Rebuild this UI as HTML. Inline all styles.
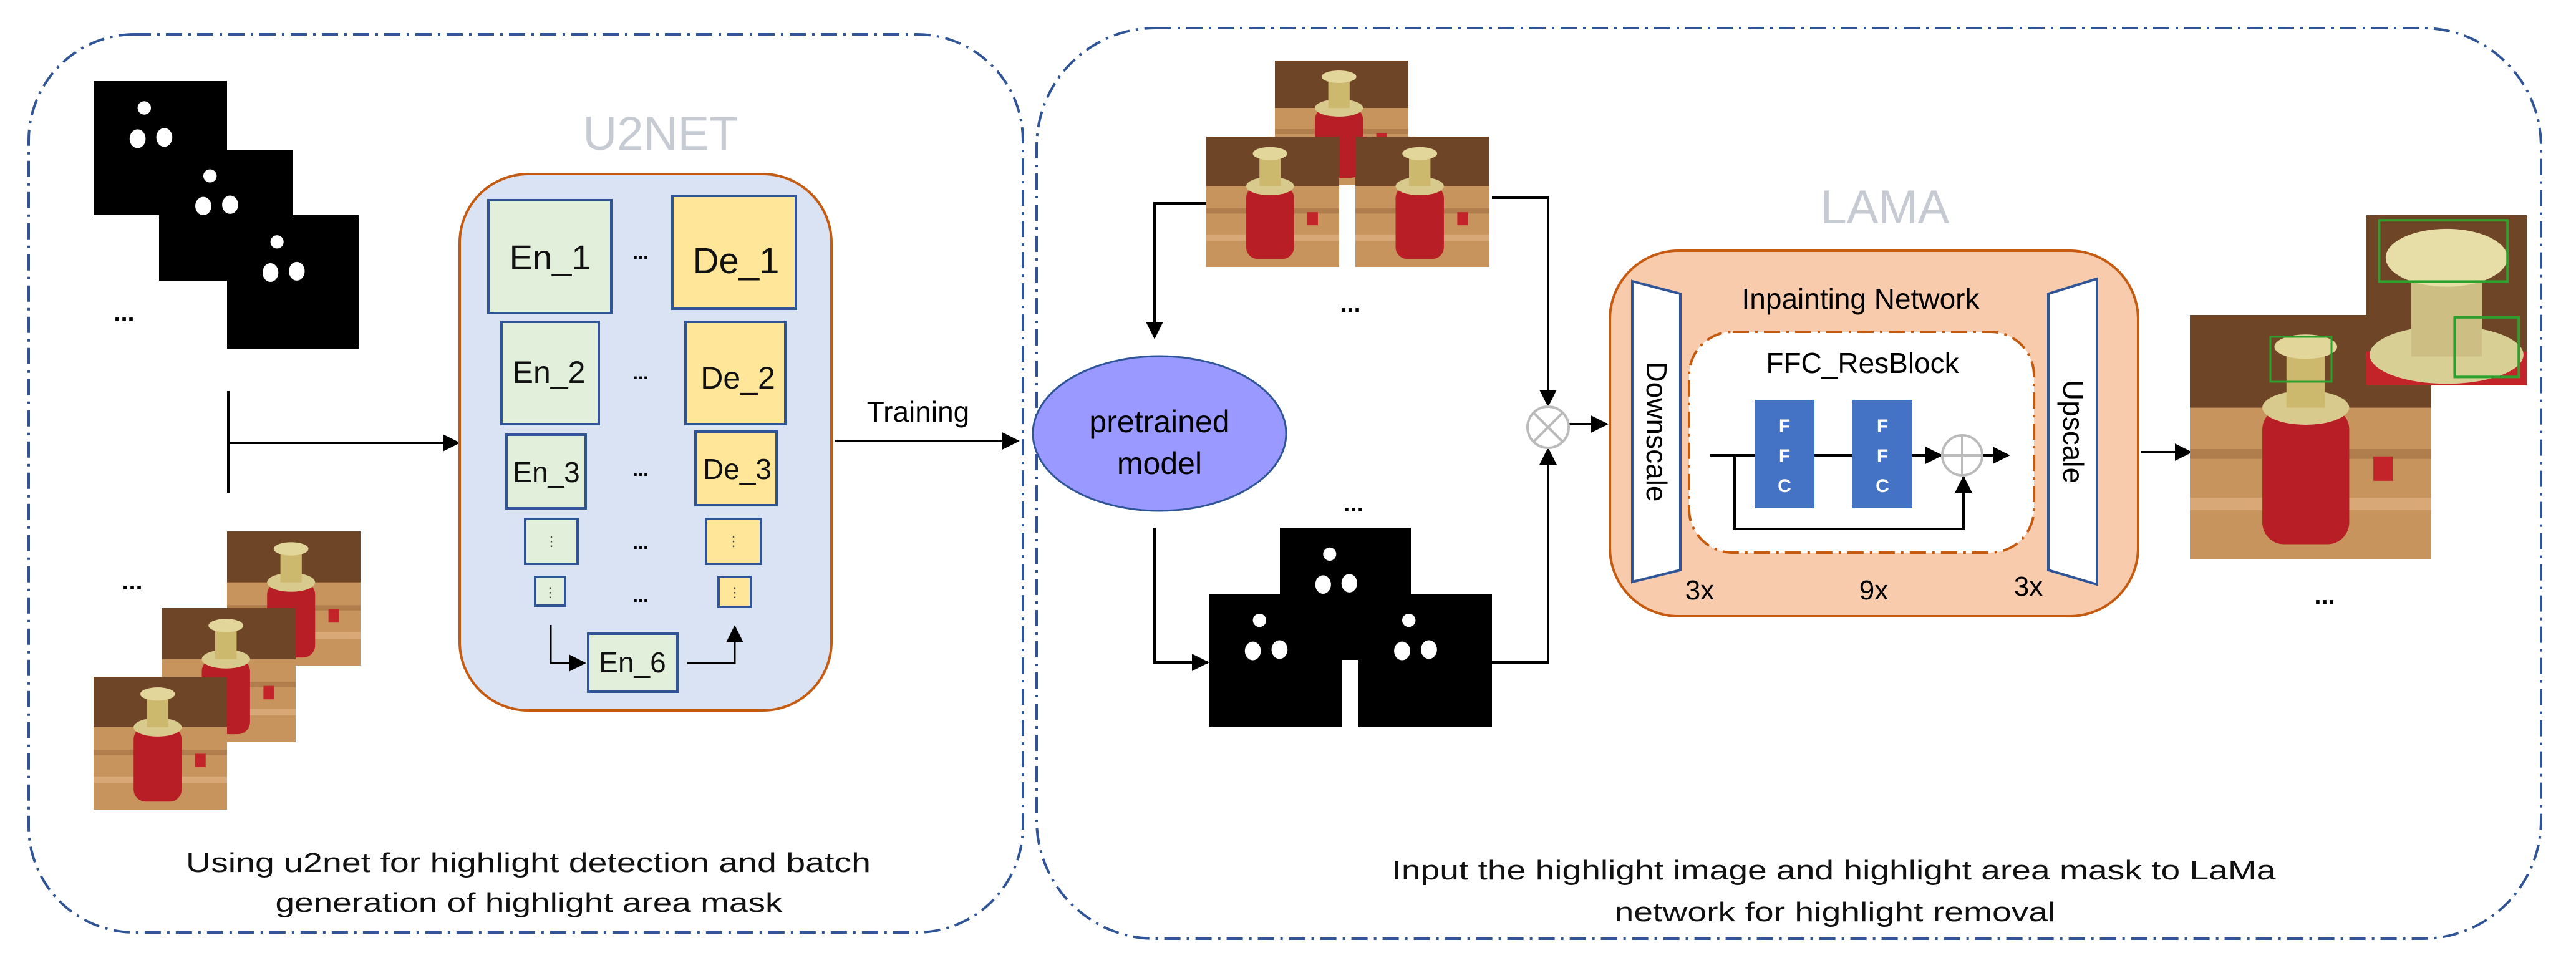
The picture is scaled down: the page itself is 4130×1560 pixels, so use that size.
<!DOCTYPE html>
<html><head><meta charset="utf-8">
<style>html,body{margin:0;padding:0;background:#fff}svg{display:block}</style>
</head><body>
<svg width="4130" height="1560" viewBox="0 0 4130 1560" xmlns="http://www.w3.org/2000/svg" font-family="Liberation Sans, sans-serif">
<defs>
<marker id="ah" viewBox="0 0 10 10" refX="9" refY="5" markerWidth="9" markerHeight="9" markerUnits="userSpaceOnUse" orient="auto"><path d="M0,0L10,5L0,10z" fill="#000"/></marker>
<marker id="a2" viewBox="0 0 10 10" refX="9" refY="5" markerWidth="28" markerHeight="28" markerUnits="userSpaceOnUse" orient="auto"><path d="M0,0L10,5L0,10z" fill="#000"/></marker>
<symbol id="photo" viewBox="0 0 100 100" preserveAspectRatio="none">
<rect width="100" height="100" fill="#c8945e"/>
<rect width="100" height="38" fill="#6e4526"/>
<rect x="0" y="55" width="100" height="4" fill="#b07d4c"/>
<rect x="0" y="75" width="100" height="5" fill="#d9a877"/>
<rect x="30" y="38" width="36" height="56" rx="9" fill="#b81e26"/>
<ellipse cx="48" cy="38" rx="18" ry="7" fill="#d8c98c"/>
<rect x="40" y="14" width="16" height="24" fill="#cdb96e"/>
<ellipse cx="48" cy="13" rx="13" ry="5" fill="#e2d69a"/>
<rect x="76" y="58" width="8" height="10" fill="#c3242a"/>
</symbol>
<symbol id="mask" viewBox="0 0 100 100" preserveAspectRatio="none">
<rect width="100" height="100" fill="#000"/>
<ellipse cx="38" cy="20" rx="5" ry="5" fill="#fff"/>
<ellipse cx="33" cy="43" rx="6" ry="7" fill="#fff"/>
<ellipse cx="53" cy="42" rx="6" ry="7" fill="#fff"/>
</symbol>
</defs>

<!-- outer dashed boxes -->
<rect x="46" y="55" width="1594" height="1440" rx="170" fill="none" stroke="#2f5597" stroke-width="4" stroke-dasharray="26 10 4 10"/>
<rect x="1662" y="45" width="2412" height="1460" rx="190" fill="none" stroke="#2f5597" stroke-width="4" stroke-dasharray="26 10 4 10"/>

<!-- left masks -->
<use href="#mask" x="150" y="130" width="214" height="215"/>
<use href="#mask" x="255" y="240" width="215" height="210"/>
<use href="#mask" x="364" y="345" width="211" height="214"/>
<text x="199" y="515" font-size="40" font-weight="bold" text-anchor="middle">...</text>
<!-- left photos -->
<use href="#photo" x="364" y="852" width="214" height="215"/>
<use href="#photo" x="259" y="975" width="215" height="215"/>
<use href="#photo" x="150" y="1085" width="214" height="213"/>
<text x="212" y="945" font-size="40" font-weight="bold" text-anchor="middle">...</text>

<line x1="366" y1="627" x2="366" y2="790" stroke="#000" stroke-width="4"/>
<line x1="366" y1="710" x2="735" y2="710" stroke="#000" stroke-width="4" marker-end="url(#a2)"/>

<!-- U2NET -->
<text x="1059" y="240" font-size="76" fill="#c5cad3" text-anchor="middle">U2NET</text>
<rect x="737" y="279" width="596" height="860" rx="110" fill="#dae3f3" stroke="#c55a11" stroke-width="4"/>
<g stroke="#2f5597" stroke-width="4">
<rect x="783" y="321" width="197" height="181" fill="#e2efda"/>
<rect x="1078" y="314" width="198" height="181" fill="#ffe699"/>
<rect x="804" y="516" width="156" height="164" fill="#e2efda"/>
<rect x="1099" y="516" width="160" height="164" fill="#ffe699"/>
<rect x="812" y="697" width="127" height="118" fill="#e2efda"/>
<rect x="1115" y="692" width="130" height="118" fill="#ffe699"/>
<rect x="842" y="832" width="84" height="72" fill="#e2efda"/>
<rect x="1132" y="832" width="88" height="72" fill="#ffe699"/>
<rect x="858" y="925" width="48" height="46" fill="#e2efda"/>
<rect x="1152" y="925" width="52" height="48" fill="#ffe699"/>
<rect x="943" y="1016" width="143" height="93" fill="#e2efda"/>
</g>
<g font-size="56" text-anchor="middle" fill="#111">
<text x="882" y="432">En_1</text>
<text x="1180" y="438" font-size="58">De_1</text>
<text x="880" y="614" font-size="50">En_2</text>
<text x="1183" y="623" font-size="50">De_2</text>
<text x="876" y="773" font-size="46">En_3</text>
<text x="1182" y="768" font-size="46">De_3</text>
<text x="1014" y="1078" font-size="46">En_6</text>
</g>
<g font-size="30" font-weight="bold" text-anchor="middle">
<text x="1027" y="415">...</text><text x="1027" y="608">...</text><text x="1027" y="763">...</text>
<text x="1027" y="880">...</text><text x="1027" y="965">...</text>
</g>
<g font-size="22" text-anchor="middle" fill="#444"><text x="884" y="875">⋮</text><text x="1176" y="875">⋮</text><text x="882" y="957">⋮</text><text x="1178" y="957">⋮</text></g>
<polyline points="883,1002 883,1063 937,1063" fill="none" stroke="#000" stroke-width="3" marker-end="url(#a2)"/>
<polyline points="1102,1063 1178,1063 1178,1005" fill="none" stroke="#000" stroke-width="3" marker-end="url(#a2)"/>

<!-- Training -->
<text x="1472" y="676" font-size="46" text-anchor="middle">Training</text>
<line x1="1338" y1="707" x2="1632" y2="707" stroke="#000" stroke-width="4" marker-end="url(#a2)"/>

<!-- pretrained -->
<ellipse cx="1859" cy="695" rx="203" ry="124" fill="#9999ff" stroke="#2f5597" stroke-width="3"/>
<text x="1859" y="693" font-size="50" text-anchor="middle">pretrained</text>
<text x="1859" y="760" font-size="50" text-anchor="middle">model</text>

<!-- right photos -->
<use href="#photo" x="2044" y="97" width="214" height="200"/>
<use href="#photo" x="1934" y="219" width="213" height="209"/>
<use href="#photo" x="2173" y="219" width="215" height="209"/>
<text x="2165" y="500" font-size="40" font-weight="bold" text-anchor="middle">...</text>
<use href="#mask" x="2052" y="846" width="210" height="212"/>
<use href="#mask" x="1938" y="952" width="214" height="213"/>
<use href="#mask" x="2177" y="952" width="215" height="213"/>
<text x="2170" y="820" font-size="40" font-weight="bold" text-anchor="middle">...</text>

<g fill="none" stroke="#000" stroke-width="4">
<polyline points="1934,326 1851,326 1851,541" marker-end="url(#a2)"/>
<polyline points="2392,317 2482,317 2482,650" marker-end="url(#a2)"/>
<polyline points="1851,846 1851,1062 1936,1062" marker-end="url(#a2)"/>
<polyline points="2392,1062 2482,1062 2482,720" marker-end="url(#a2)"/>
<line x1="2516" y1="680" x2="2576" y2="680" marker-end="url(#a2)"/>
</g>
<circle cx="2482" cy="685" r="33" fill="#fff" stroke="#bbb" stroke-width="4"/>
<line x1="2459" y1="662" x2="2505" y2="708" stroke="#bbb" stroke-width="4"/>
<line x1="2505" y1="662" x2="2459" y2="708" stroke="#bbb" stroke-width="4"/>

<!-- LAMA -->
<text x="3022" y="358" font-size="76" fill="#c5cad3" text-anchor="middle">LAMA</text>
<rect x="2581" y="402" width="847" height="586" rx="110" fill="#f8cbad" stroke="#c55a11" stroke-width="4"/>
<polygon points="2617,451 2694,471 2694,914 2617,933" fill="#fff" stroke="#2f5597" stroke-width="4"/>
<polygon points="3284,471 3362,447 3362,937 3284,914" fill="#fff" stroke="#2f5597" stroke-width="4"/>
<text x="2983" y="495" font-size="46" text-anchor="middle">Inpainting  Network</text>
<rect x="2708" y="532" width="553" height="354" rx="70" fill="#fff" stroke="#c55a11" stroke-width="4" stroke-dasharray="26 10 4 10"/>
<text x="2986" y="598" font-size="46" text-anchor="middle">FFC_ResBlock</text>
<text transform="translate(2640,692) rotate(90)" font-size="46" text-anchor="middle">Downscale</text>
<text transform="translate(3308,692) rotate(90)" font-size="46" text-anchor="middle">Upscale</text>
<rect x="2813" y="641" width="96" height="174" fill="#4472c4"/>
<rect x="2970" y="641" width="96" height="174" fill="#4472c4"/>
<g fill="#fff" font-size="30" font-weight="bold" text-anchor="middle">
<text x="2861" y="693">F</text><text x="2861" y="741">F</text><text x="2861" y="789">C</text>
<text x="3018" y="693">F</text><text x="3018" y="741">F</text><text x="3018" y="789">C</text>
</g>
<g fill="none" stroke="#000" stroke-width="4">
<line x1="2742" y1="730" x2="2813" y2="730"/>
<line x1="2909" y1="730" x2="2970" y2="730"/>
<line x1="3066" y1="730" x2="3112" y2="730" marker-end="url(#a2)"/>
<line x1="3179" y1="730" x2="3220" y2="730" marker-end="url(#a2)"/>
<polyline points="2781,730 2781,848 3148,848 3148,765" marker-end="url(#a2)"/>
</g>
<circle cx="3146" cy="730" r="32" fill="none" stroke="#bbb" stroke-width="4"/>
<line x1="3114" y1="730" x2="3178" y2="730" stroke="#bbb" stroke-width="4"/>
<line x1="3146" y1="698" x2="3146" y2="762" stroke="#bbb" stroke-width="4"/>
<g font-size="44" text-anchor="middle"><text x="2725" y="961">3x</text><text x="3004" y="961">9x</text><text x="3252" y="955">3x</text></g>
<line x1="3432" y1="725" x2="3512" y2="725" stroke="#000" stroke-width="4" marker-end="url(#a2)"/>

<!-- result -->
<use href="#photo" x="3511" y="505" width="387" height="391"/>
<g>
<svg x="3794" y="345" width="257" height="273" viewBox="0 0 100 100" preserveAspectRatio="none">
<rect width="100" height="100" fill="#6e4526"/>
<rect y="80" width="100" height="20" fill="#c3242a"/>
<ellipse cx="50" cy="82" rx="48" ry="17" fill="#d8cf95"/>
<rect x="28" y="38" width="44" height="45" fill="#cdbf84"/>
<ellipse cx="50" cy="25" rx="38" ry="17" fill="#e6dea6"/>
<rect x="8" y="3" width="80" height="36" fill="none" stroke="#2da02d" stroke-width="1.5"/>
<rect x="55" y="60" width="40" height="35" fill="none" stroke="#2da02d" stroke-width="1.5"/>
</svg>
</g>
<rect x="3640" y="540" width="98" height="72" fill="none" stroke="#2da02d" stroke-width="3"/>
<text x="3727" y="968" font-size="40" font-weight="bold" text-anchor="middle">...</text>

<!-- captions -->
<g font-size="44" fill="#111" text-anchor="middle">
<text x="847" y="1398" textLength="1098" lengthAdjust="spacingAndGlyphs">Using u2net for highlight  detection  and batch</text>
<text x="848" y="1462" textLength="813" lengthAdjust="spacingAndGlyphs">generation  of highlight  area mask</text>
<text x="2940" y="1410" textLength="1417" lengthAdjust="spacingAndGlyphs">Input the highlight  image and highlight  area mask to LaMa</text>
<text x="2942" y="1477" textLength="707" lengthAdjust="spacingAndGlyphs">network  for highlight  removal</text>
</g>
</svg>
</body></html>
